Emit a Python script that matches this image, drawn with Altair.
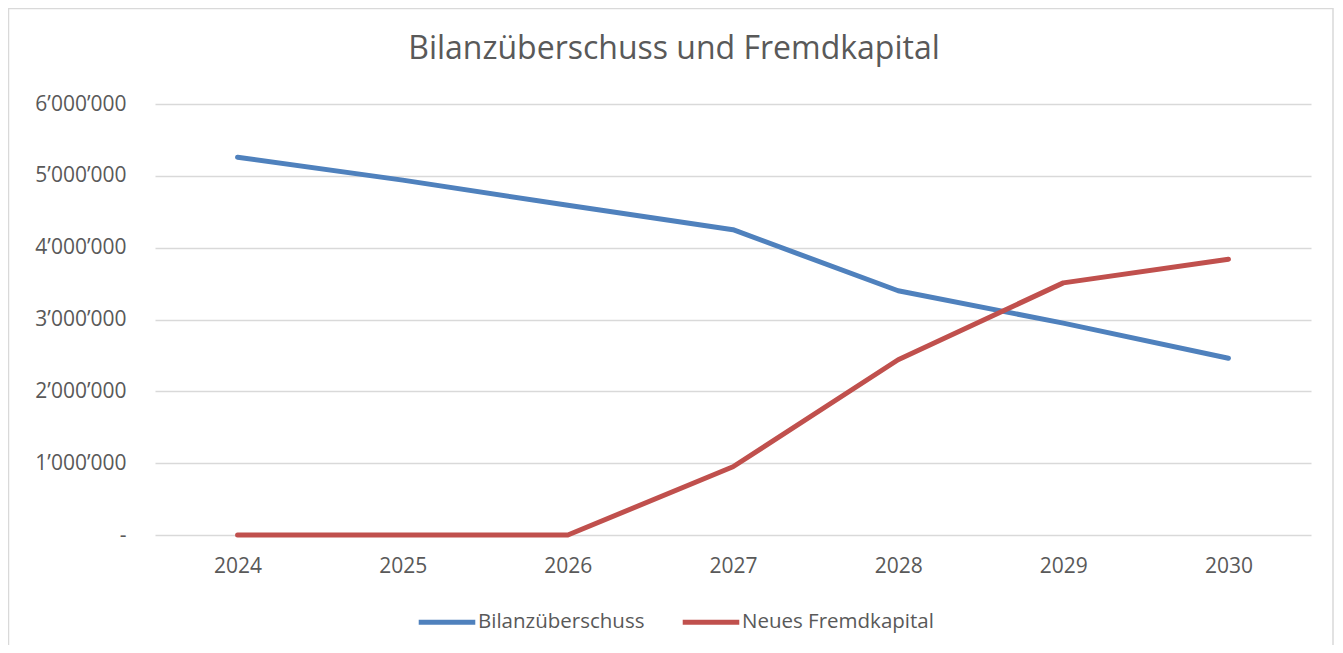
import altair as alt
import pandas as pd

years = ["2024", "2025", "2026", "2027", "2028", "2029", "2030"]
series_names = ["Bilanzüberschuss", "Neues Fremdkapital"]
bilanz = [5260000, 4940000, 4590000, 4250000, 3400000, 2950000, 2460000]
fremd = [0, 0, 0, 950000, 2440000, 3510000, 3840000]
colors = ["#4F81BD", "#C0504D"]
title_text = "Bilanzüberschuss und Fremdkapital"
y_ticks = [0, 1000000, 2000000, 3000000, 4000000, 5000000, 6000000]

rows = []
for name, vals in zip(series_names, [bilanz, fremd]):
    for yr, v in zip(years, vals):
        rows.append({"Jahr": yr, "Serie": name, "Wert": v})
df = pd.DataFrame(rows)
meta = pd.DataFrame({"t": [title_text]})

FONT = "Open Sans"
GREY = "#595959"

lines = alt.Chart(df).mark_line(strokeWidth=5, strokeCap="round", strokeJoin="round").encode(
    x=alt.X("Jahr:O", sort=years, title=None,
            axis=alt.Axis(labelAngle=0, ticks=False, domain=False, labelPadding=20,
                          labelFontSize=21, labelColor=GREY, labelFont=FONT)),
    y=alt.Y("Wert:Q", title=None,
            scale=alt.Scale(domain=[0, 6000000], nice=False),
            axis=alt.Axis(values=y_ticks, ticks=False, domain=False, labelPadding=29,
                          labelFontSize=21, labelColor=GREY, labelFont=FONT,
                          gridColor="#d9d9d9", gridWidth=1.5,
                          labelExpr="datum.value == 0 ? '-  ' : join(split(format(datum.value, ','), ','), '\u2019')")),
    color=alt.Color("Serie:N", sort=series_names,
                    scale=alt.Scale(domain=series_names, range=colors),
                    legend=alt.Legend(title=None, orient="none", direction="horizontal",
                                      legendX=261, legendY=487,
                                      symbolType="stroke", symbolStrokeWidth=5, symbolSize=3200,
                                      labelFontSize=20.5, labelColor=GREY, labelFont=FONT,
                                      labelLimit=0, labelOffset=0, columnPadding=27)),
)

title = alt.Chart(meta).mark_text(fontSize=32, font=FONT, color=GREY, align="center",
                                  baseline="middle").encode(
    text="t:N", x=alt.value(519), y=alt.value(-55))

border = alt.Chart(meta).mark_rect(fill="transparent", stroke="#d9d9d9", strokeWidth=1.5).encode(
    x=alt.value(-146.5), x2=alt.value(1178), y=alt.value(-95.5), y2=alt.value(560))

chart = alt.layer(border, lines, title).properties(
    width=1156, height=431,
    autosize=alt.AutoSizeParams(type="none"),
    padding={"left": 147, "top": 96, "right": 24, "bottom": 110},
).configure_view(stroke=None)

chart.save("out.html", embed_options={"renderer": "svg", "actions": False})
